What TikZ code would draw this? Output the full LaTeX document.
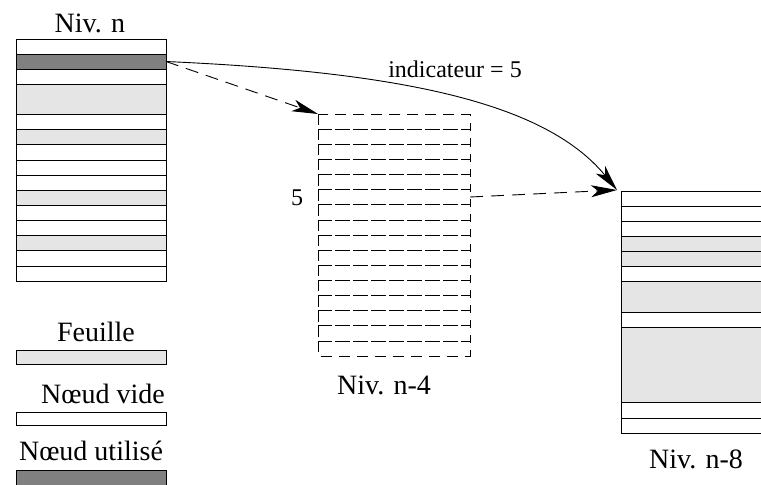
\documentclass[tikz,border=0pt]{standalone}
\usepackage{fontspec}
\setmainfont{Liberation Serif}
\usetikzlibrary{arrows.meta}
\definecolor{feuille}{gray}{0.9}
\definecolor{utilise}{gray}{0.5}
\tikzset{
	case/.style={draw=black, line width=0.9pt},
	grille/.style={draw=black, line width=0.8pt, dash pattern=on 11pt off 7pt},
	fleche/.style={-{Stealth[length=26pt,width=12pt,inset=7pt]}, line width=0.9pt},
	tirets/.style={dash pattern=on 13pt off 8pt},
	etiq/.style={font=\fontsize{28}{30}\selectfont, anchor=base, inner sep=0pt},
	petit/.style={font=\fontsize{24}{26}\selectfont, anchor=base, inner sep=0pt}
}

\begin{document}
\begin{tikzpicture}[x=1pt, y=-1pt]
		\useasboundingbox (0,0) rectangle (761,485);

		% Niveau n
		\foreach \a/\b/\c in {0/1/white, 1/2/utilise, 2/3/white, 3/5/feuille, 5/6/white, 6/7/feuille, 7/8/white, 8/9/white, 9/10/white, 10/11/feuille, 11/12/white, 12/13/white, 13/14/feuille, 14/15/white, 15/16/white}
			\draw[case, fill=\c] (16,39+\a*15.13) rectangle (166,39+\b*15.13);
		\node[etiq] (nivn) at (90,32) {Niv. n};

		% Niveau n-4 (pointilles)
		\foreach \i in {0,...,15}
			\draw[grille] (318,114+\i*15.13) rectangle (470,114+\i*15.13+15.13);
		\node[petit] (cinq) at (297,205) {5};
		\node[etiq] (nivn4) at (384,394) {Niv. n-4};

		% Niveau n-8
		\foreach \a/\b/\c in {0/1/white, 1/2/white, 2/3/white, 3/4/feuille, 4/5/feuille, 5/6/white, 6/8/feuille, 8/9/white, 9/14/feuille, 14/15/white, 15/16/white}
			\draw[case, fill=\c] (621,191+\a*15.13) rectangle (775,191+\b*15.13);
		\node[etiq] (nivn8) at (696,468) {Niv. n-8};

		% Fleches
		\coordinate (depart) at (166,61.5);
		\coordinate (grille) at (318,114);
		\coordinate (ligne5) at (470,197);
		\coordinate (cible) at (617,190);
		\draw[fleche, tirets] (depart) -- (grille);
		\draw[fleche] (depart) .. controls (400,72) and (545,102) .. (cible);
		\draw[fleche, tirets] (ligne5) -- (cible);
		\node[petit] (indic) at (455,77) {indicateur = 5};

		% Legende
		\node[etiq] (lfeuille) at (96,341) {Feuille};
		\draw[case, fill=feuille] (16,350) rectangle (166,364);
		\node[etiq] (lvide) at (103,403) {Nœud vide};
		\draw[case, fill=white] (16,412) rectangle (166,425);
		\node[etiq] (lutil) at (91,460) {Nœud utilisé};
		\draw[case, fill=utilise] (16,470) rectangle (166,492);
	\end{tikzpicture}
\end{document}
